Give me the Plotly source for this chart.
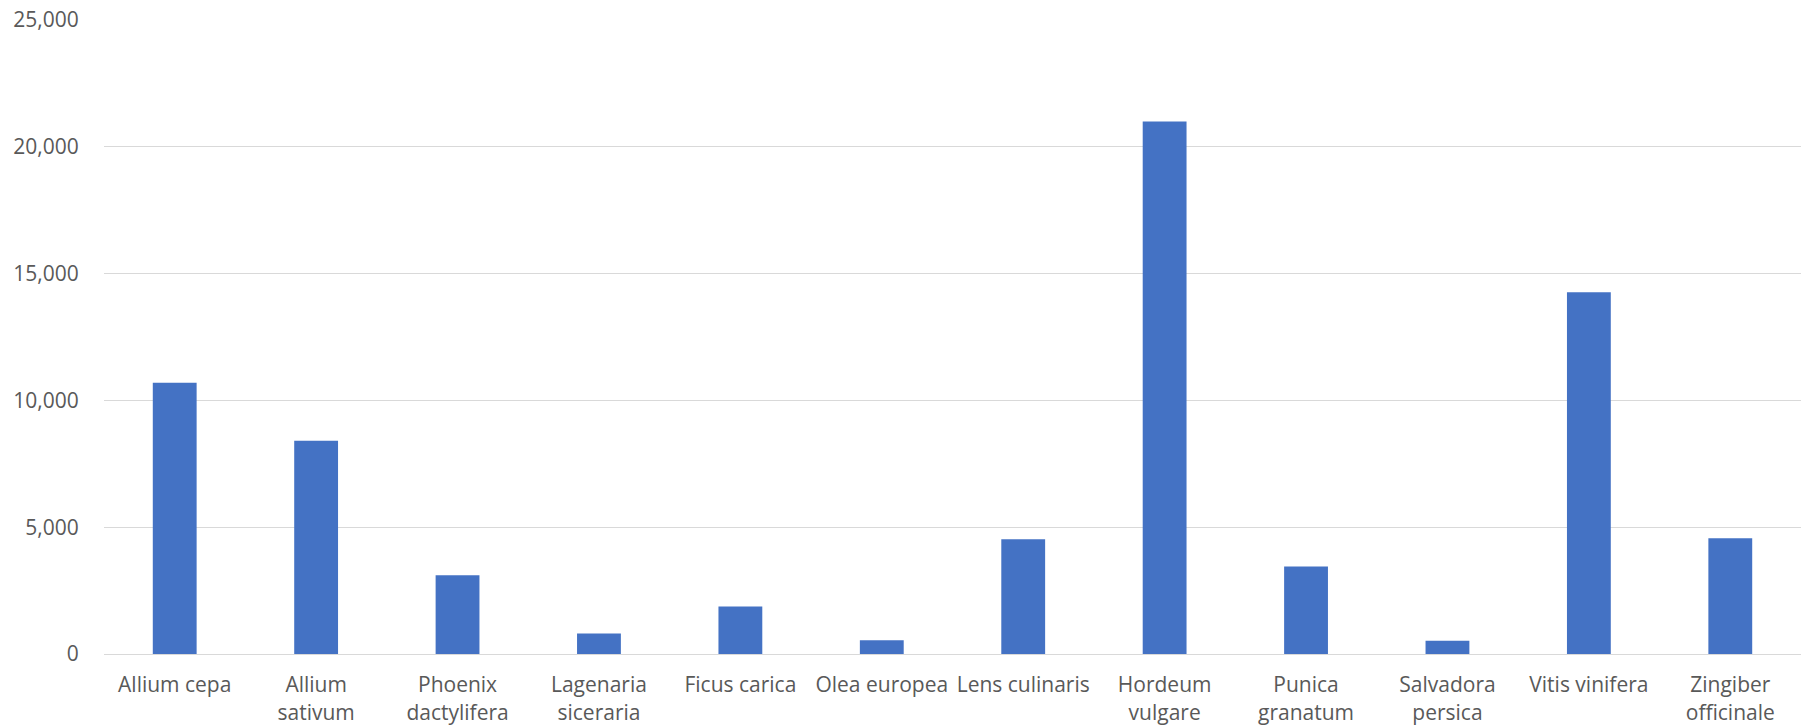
import plotly.graph_objects as go

categories = [
    "Allium cepa", "Allium<br>sativum", "Phoenix<br>dactylifera", "Lagenaria<br>siceraria",
    "Ficus carica", "Olea europea", "Lens culinaris", "Hordeum<br>vulgare",
    "Punica<br>granatum", "Salvadora<br>persica", "Vitis vinifera", "Zingiber<br>officinale",
]
values = [10700, 8410, 3110, 810, 1870, 545, 4520, 21000, 3455, 520, 14260, 4560]
y_ticks = [0, 5000, 10000, 15000, 20000, 25000]

FONT = "Segoe UI, Open Sans, sans-serif"
TXT = "#595959"

fig = go.Figure(
    go.Bar(
        x=categories,
        y=values,
        marker=dict(color="#4472C4", line=dict(width=0)),
    )
)

fig.update_layout(
    width=1801,
    height=727,
    margin=dict(l=104, r=0, t=20, b=73),
    paper_bgcolor="white",
    plot_bgcolor="white",
    bargap=0.69,
    showlegend=False,
    font=dict(family=FONT, size=21, color=TXT),
)

fig.update_xaxes(
    showgrid=False,
    showline=True,
    linecolor="#d9d9d9",
    linewidth=1,
    ticks="outside",
    ticklen=12,
    tickcolor="rgba(0,0,0,0)",
    tickfont=dict(family=FONT, size=21, color=TXT),
    fixedrange=True,
)

fig.update_yaxes(
    range=[0, 25000],
    tickvals=y_ticks,
    tickformat=",",
    showgrid=True,
    gridcolor="#d9d9d9",
    gridwidth=1,
    zeroline=False,
    showline=False,
    ticks="outside",
    ticklen=20,
    tickcolor="rgba(0,0,0,0)",
    tickfont=dict(family=FONT, size=21, color=TXT),
    fixedrange=True,
)

fig.write_html("out.html", config={"displayModeBar": False})
